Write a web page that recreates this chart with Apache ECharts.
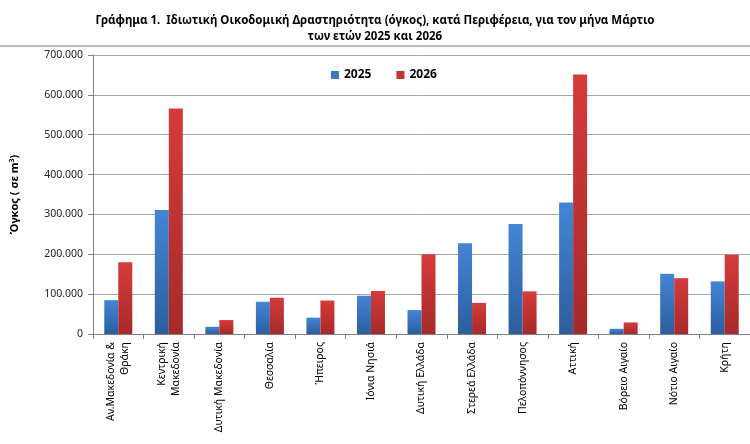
<!DOCTYPE html>
<html>
<head>
<meta charset="utf-8">
<script src="https://cdn.jsdelivr.net/npm/echarts@6/dist/echarts.min.js"></script>
<style>
  html, body { margin: 0; padding: 0; background: #fff; }
  #chart { width: 750px; height: 444px; }
</style>
</head>
<body>
<div id="chart"></div>
<script>
// Περιφέρειες
const regions = [
  "Αν.Μακεδονία &\nΘράκη", "Κεντρική\nΜακεδονία", "Δυτική Μακεδονία", "Θεσσαλία",
  "Ήπειρος", "Ιόνια Νησιά", "Δυτική Ελλάδα", "Στερεά Ελλάδα", "Πελοπόννησος",
  "Αττική", "Βόρειο Αιγαίο", "Νότιο Αιγαίο", "Κρήτη"
];
const vol2025 = [85000, 311000, 18000, 81000, 41000, 96000, 60000, 228000, 276000, 330000, 13000, 151000, 132000];
const vol2026 = [180000, 566000, 35000, 91000, 84000, 108000, 200000, 78000, 107000, 651000, 29000, 140000, 199000];

const font = "'Noto Sans', sans-serif";

function grad(top, bottom) {
  return new echarts.graphic.LinearGradient(0, 0, 0, 1, [
    { offset: 0, color: top },
    { offset: 1, color: bottom }
  ]);
}

const chart = echarts.init(document.getElementById("chart"));
chart.setOption({
  animation: false,
  textStyle: { fontFamily: font },
  title: {
    text: "Γράφημα 1.  Ιδιωτική Οικοδομική Δραστηριότητα (όγκος), κατά Περιφέρεια, για τον μήνα Μάρτιο\nτων ετών 2025 και 2026",
    left: "center",
    top: 8,
    textStyle: { fontSize: 11.5, fontWeight: "bold", color: "#000", lineHeight: 16, fontFamily: font }
  },
  graphic: [
    { type: "line", shape: { x1: 0, y1: 46, x2: 750, y2: 46 }, style: { stroke: "#a6a6a6", lineWidth: 1.5 } }
  ],
  legend: {
    left: 326,
    top: 64,
    itemWidth: 8,
    itemHeight: 8,
    itemGap: 25,
    icon: "rect",
    textStyle: { fontSize: 12, fontWeight: "bold", color: "#000", fontFamily: font },
    data: [
      { name: "2025", itemStyle: { color: "#3c78c8" } },
      { name: "2026", itemStyle: { color: "#c83232" } }
    ]
  },
  grid: { left: 90, right: 0, top: 55, bottom: 110 },
  xAxis: {
    type: "category",
    data: regions,
    axisLine: { lineStyle: { color: "#808080" } },
    axisTick: { show: true, length: 5, lineStyle: { color: "#808080" } },
    axisLabel: { rotate: 90, fontSize: 10.5, color: "#000", lineHeight: 14, margin: 8, interval: 0 }
  },
  yAxis: {
    type: "value",
    min: 0,
    max: 700000,
    interval: 100000,
    name: "Όγκος ( σε m{sup|3})",
    nameLocation: "middle",
    nameGap: 72,
    nameTextStyle: {
      fontSize: 11, fontWeight: "bold", color: "#000",
      rich: { sup: { fontSize: 7, fontWeight: "bold", verticalAlign: "top", padding: [0, 0, 6, 0] } }
    },
    axisLine: { show: true, lineStyle: { color: "#808080" } },
    axisTick: { show: true, length: 5, lineStyle: { color: "#808080" } },
    splitLine: { lineStyle: { color: "#a6a6a6" } },
    axisLabel: {
      fontSize: 10.5, color: "#222", margin: 10,
      formatter: v => v === 0 ? "0" : v.toLocaleString("de-DE")
    }
  },
  series: [
    {
      name: "2025", type: "bar", data: vol2025,
      barWidth: 14, barGap: "0%",
      itemStyle: { color: grad("#4485d6", "#2c5e9e") }
    },
    {
      name: "2026", type: "bar", data: vol2026,
      barWidth: 14,
      itemStyle: { color: grad("#d63b3b", "#a62a2a") }
    }
  ]
});
</script>
</body>
</html>
